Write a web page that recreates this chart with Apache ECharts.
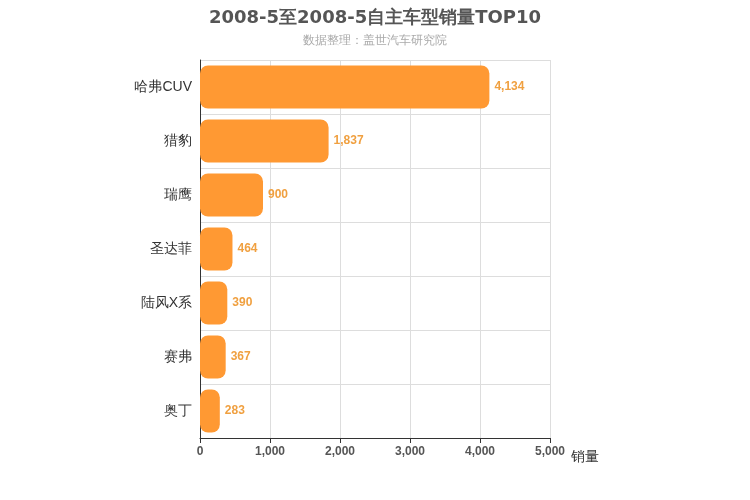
<!DOCTYPE html>
<html><head><meta charset="utf-8">
<script src="https://cdn.jsdelivr.net/npm/echarts@6/dist/echarts.min.js"></script>
<style>html,body{margin:0;padding:0}#c{width:750px;height:500px}</style>
</head><body><div id="c"></div>
<script>
const categories = ['哈弗CUV','猎豹','瑞鹰','圣达菲','陆风X系','赛弗','奥丁'];
const values = [4134,1837,900,464,390,367,283];
const chart = echarts.init(document.getElementById('c'));
chart.setOption({
  animation:false,
  title:{text:'2008-5至2008-5自主车型销量TOP10',subtext:'数据整理：盖世汽车研究院',left:'center',top:4,
    textStyle:{fontSize:18,fontWeight:'bold',color:'#555',fontFamily:'DejaVu Sans'},
    subtextStyle:{fontSize:12,color:'#aaa',fontFamily:'DejaVu Sans'},itemGap:8},
  grid:{left:200,right:200,top:60,bottom:62},
  xAxis:{type:'value',min:0,max:5000,interval:1000,name:'销量',nameLocation:'end',nameGap:10,
    nameTextStyle:{fontSize:14,color:'#333',verticalAlign:'top',padding:[12,0,0,0]},
    axisLine:{show:true,lineStyle:{color:'#333'}},axisTick:{show:true},
    axisLabel:{color:'#555',fontWeight:'bold',fontSize:12},
    splitLine:{lineStyle:{color:'#ddd'}}},
  yAxis:{type:'category',data:categories,inverse:true,
    axisLine:{lineStyle:{color:'#333'}},axisTick:{show:false},
    axisLabel:{color:'#333',fontSize:14},
    splitLine:{show:true,lineStyle:{color:'#ddd'}}},
  series:[{type:'bar',data:values,barWidth:'80%',
    itemStyle:{color:'#ff9933',borderRadius:8},
    label:{show:true,position:'right',color:'#f0a040',fontWeight:'bold',fontSize:12,
      formatter:p=>p.value.toLocaleString('en-US')}}]
});
</script></body></html>
